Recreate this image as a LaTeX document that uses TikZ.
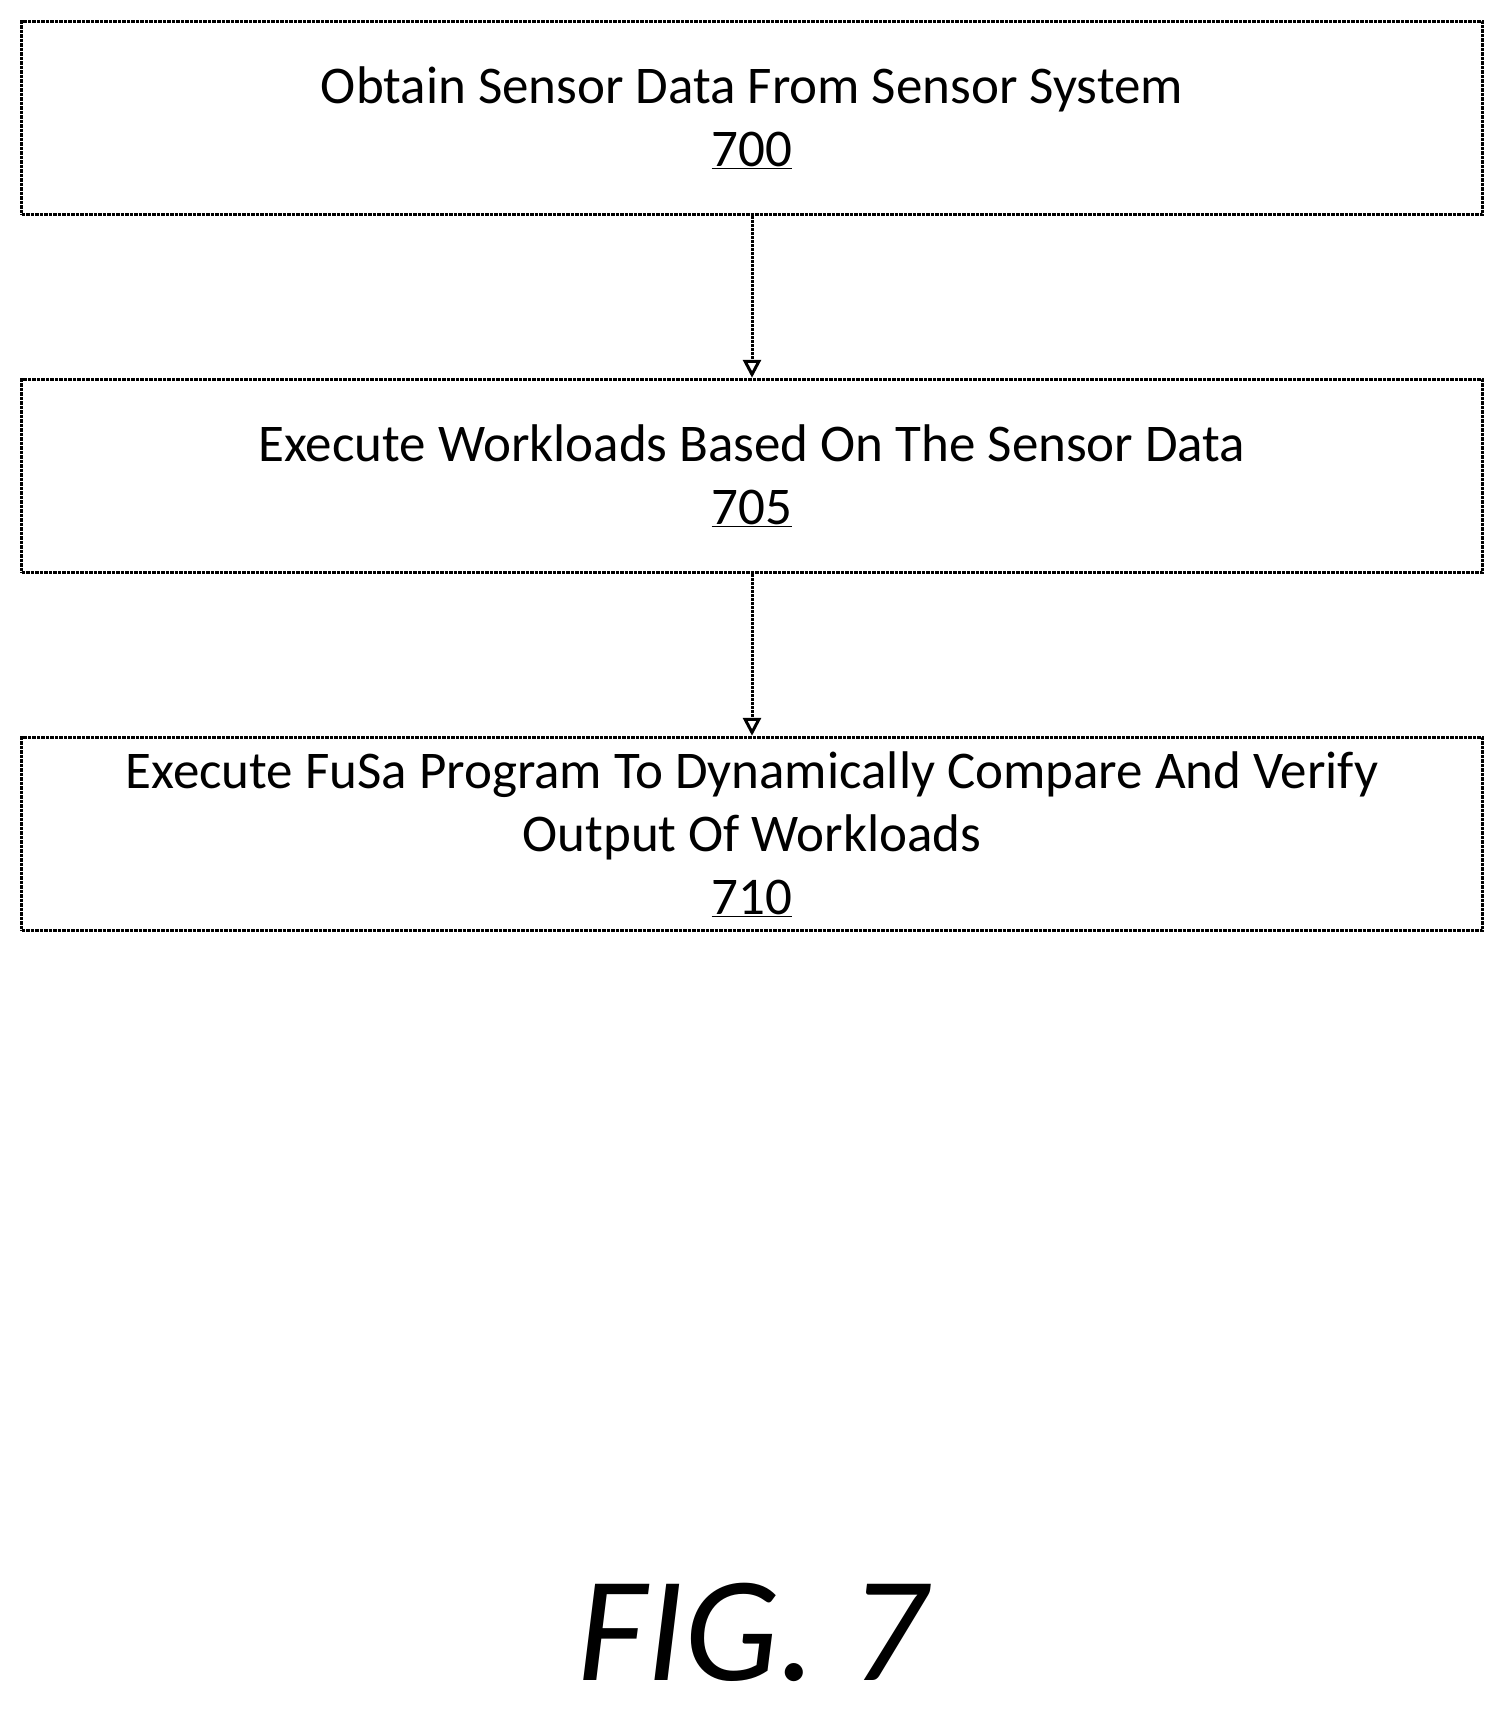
\documentclass[tikz,border=0pt]{standalone}
\usepackage{fontspec}
\setmainfont{Carlito}
\usetikzlibrary{arrows.meta,positioning}
\tikzset{
    stepbox/.style={draw, densely dotted, line width=3.5pt, minimum width=1461pt, minimum height=193pt, align=center, font=\fontsize{53}{63}\selectfont, inner sep=0pt},
    flow/.style={densely dotted, line width=3pt, -{Triangle[open, length=18pt, width=18pt]}}
}
\begin{document}
\begin{tikzpicture}[x=1pt, y=-1pt]
    \useasboundingbox (0,0) rectangle (1507,1716);
    % steps
    \node[stepbox] (obtain) at (752,118) {Obtain Sensor Data From Sensor System\\\underline{700}};
    \node[stepbox] (workloads) at (752,476) {Execute Workloads Based On The Sensor Data\\\underline{705}};
    \node[stepbox] (fusa) at (752,834) {Execute FuSa Program To Dynamically Compare And Verify\\Output Of Workloads\\\underline{710}};
    % arrows
    \draw[flow] (obtain) -- (workloads);
    \draw[flow] (workloads) -- (fusa);
    % caption
    \node[font=\fontsize{150}{150}\selectfont\itshape] (fig) at (752,1632) {FIG. 7};
\end{tikzpicture}
\end{document}
